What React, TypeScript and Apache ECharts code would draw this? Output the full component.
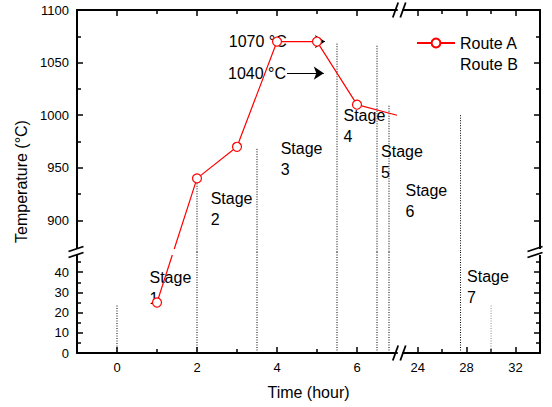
import { useEffect, useRef } from 'react';
import * as echarts from 'echarts';

const FONT = '"Liberation Sans", Arial, Helvetica, sans-serif';

// ---- axis ranges of the broken-axis panels ----
const xLeftRange = [-1, 7];
const xRightRange = [22.8, 34];
const yUpperRange = [870, 1100];
const yLowerRange = [0, 50];

// ---- tick values ----
const xLeftMajor = [0, 2, 4, 6];
const xLeftMinor = [1, 3, 5];
const xRightMajor = [24, 28, 32];
const xRightMinor = [26, 30];
const yUpperMajor = [900, 950, 1000, 1050, 1100];
const yUpperMinor = [925, 975, 1025, 1075];
const yLowerMajor = [0, 10, 20, 30, 40];
const yLowerMinor = [5, 15, 25, 35, 45];

// ---- Route A ----
const routeATime = [1, 2, 3, 4, 5, 6];
const routeATemp = [25, 940, 970, 1070, 1070, 1010];
const routeAEnd = [7, 1000]; // line runs into the time-axis break here (no marker)

// ---- stage boundaries (dotted lines) ----
const guideTime = [0, 2, 3.5, 5.5, 6.5, 6.8, 27.5, 30];
const guideTop = [23.5, 940, 968, 1068, 1066, 1009, 1000, 23.5];
const guideColor = ['#000', '#000', '#000', '#000', '#000', '#000', '#000', '#888'];

// ---- stage labels ----
const stageText = ['Stage\n1', 'Stage\n2', 'Stage\n3', 'Stage\n4', 'Stage\n5', 'Stage\n6', 'Stage\n7'];
const stageTime = [0.8, 2.33, 4.08, 5.65, 6.59, 22.96, 28.0];
const stageTemp = [32.4, 910.4, 958.4, 989.8, 955.7, 918.7, 32.6];

// ---- holding-temperature annotations ----
const holdTemps = [1070, 1040];
const holdStart = [4.27, 4.25];
const holdEnd = [5.2, 5.17];

// ---- layout (pixels) ----
const L = 77, R = 540, T = 10, B = 353, XB1 = 397, XB2 = 403, YB = 252;

const isUpper = (y: number) => y > 500;
const isRight = (x: number) => x > 15;
const gridOf = (x: number, y: number) => (isRight(x) ? 2 : 0) + (isUpper(y) ? 0 : 1);

const xRange = (g: number) => (g >= 2 ? xRightRange : xLeftRange);
const yRange = (g: number) => (g % 2 === 0 ? yUpperRange : yLowerRange);
const xMajor = (g: number) => (g >= 2 ? xRightMajor : xLeftMajor);
const xMinor = (g: number) => (g >= 2 ? xRightMinor : xLeftMinor);
const yMajor = (g: number) => (g % 2 === 0 ? yUpperMajor : yLowerMajor);
const yMinor = (g: number) => (g % 2 === 0 ? yUpperMinor : yLowerMinor);

const axisColor = '#000';
const labelStyle = { fontSize: 13, color: '#000', fontFamily: FONT, margin: 8, formatter: (v: number) => String(v) };

function makeAxis(dim: 'x' | 'y', g: number, minor: boolean) {
  const range = dim === 'x' ? xRange(g) : yRange(g);
  const upper = g % 2 === 0;
  const right = g >= 2;
  const position = dim === 'x' ? (upper ? 'top' : 'bottom') : right ? 'right' : 'left';
  const showLabel = !minor && (dim === 'x' ? !upper : !right);
  const ticks = minor ? (dim === 'x' ? xMinor(g) : yMinor(g)) : dim === 'x' ? xMajor(g) : yMajor(g);
  return {
    type: 'value',
    gridIndex: g,
    position,
    min: range[0],
    max: range[1],
    axisLine: { show: !minor, onZero: false, lineStyle: { color: axisColor, width: 2 } },
    axisTick: {
      show: true,
      inside: true,
      length: minor ? 4 : 6,
      customValues: ticks,
      lineStyle: { color: axisColor, width: 1.5 },
    },
    axisLabel: { show: showLabel, customValues: ticks, ...labelStyle },
    splitLine: { show: false },
    minorTick: { show: false },
  };
}

function buildOption(lowEnd: number[] | null, highStart: number[] | null) {
  const grids = [0, 1, 2, 3].map((g) => ({
    left: g >= 2 ? XB2 : L,
    top: g % 2 === 0 ? T : YB,
    width: g >= 2 ? R - XB2 : XB1 - L,
    height: g % 2 === 0 ? YB - T : B - YB,
    outerBoundsMode: 'none',
  }));
  const xAxes = [0, 1, 2, 3].map((g) => makeAxis('x', g, false)).concat([0, 1, 2, 3].map((g) => makeAxis('x', g, true)));
  const yAxes = [0, 1, 2, 3].map((g) => makeAxis('y', g, false)).concat([0, 1, 2, 3].map((g) => makeAxis('y', g, true)));

  const series: any[] = [];

  // dotted stage boundaries
  guideTime.forEach((x, i) => {
    const top = guideTop[i];
    const pieces: { g: number; data: number[][] }[] = [];
    const gx = isRight(x) ? 2 : 0;
    if (isUpper(top)) {
      pieces.push({ g: gx, data: [[x, top], [x, yUpperRange[0]]] });
      pieces.push({ g: gx + 1, data: [[x, yLowerRange[1]], [x, 0]] });
    } else {
      pieces.push({ g: gx + 1, data: [[x, top], [x, 0]] });
    }
    pieces.forEach((p) =>
      series.push({
        type: 'line',
        xAxisIndex: p.g,
        yAxisIndex: p.g,
        data: p.data,
        symbol: 'none',
        silent: true,
        z: 1,
        lineStyle: { color: guideColor[i], width: 1, type: [1, 1.5] },
      })
    );
  });

  const red = '#ff0000';
  const markerStyle = { color: '#fff', borderColor: red, borderWidth: 1.2 };
  const lowPts: any[] = [];
  const highPts: any[] = [];
  routeATime.forEach((t, i) => {
    if (isUpper(routeATemp[i])) highPts.push([t, routeATemp[i]]);
    else lowPts.push([t, routeATemp[i]]);
  });
  if (lowEnd) lowPts.push({ value: lowEnd, symbol: 'none' });
  if (highStart) highPts.unshift({ value: highStart, symbol: 'none' });
  highPts.push({ value: routeAEnd, symbol: 'none' });

  const routeBase = {
    type: 'line',
    name: 'Route A',
    symbol: 'circle',
    symbolSize: 9,
    itemStyle: markerStyle,
    lineStyle: { color: red, width: 1.2 },
    z: 5,
    silent: true,
  };
  series.push({ ...routeBase, xAxisIndex: 0, yAxisIndex: 0, data: highPts,
    markLine: {
      silent: true,
      symbol: ['none', 'arrow'],
      symbolSize: 10,
      precision: 3,
      lineStyle: { color: '#000', width: 1, type: 'solid' },
      itemStyle: { color: '#000' },
      label: { show: true, position: 'start', formatter: '{b}', fontSize: 16, color: '#000', fontFamily: FONT, distance: 1 },
      emphasis: { disabled: true },
      data: holdTemps.map((t, i) => [
        { name: `${t} °C`, coord: [holdStart[i], t] },
        { coord: [holdEnd[i], t] },
      ]),
    },
  });
  series.push({ ...routeBase, xAxisIndex: 1, yAxisIndex: 1, data: lowPts });

  series.push({
    type: 'line',
    name: 'Route B',
    xAxisIndex: 0,
    yAxisIndex: 0,
    data: [],
    symbol: 'none',
    itemStyle: { color: 'rgba(0,0,0,0)' },
    lineStyle: { color: 'rgba(0,0,0,0)' },
  });

  // stage labels
  [0, 1, 2, 3].forEach((g) => {
    const items = stageText
      .map((s, i) => ({ name: s, value: [stageTime[i], stageTemp[i]] }))
      .filter((it) => gridOf(it.value[0], it.value[1]) === g);
    if (!items.length) return;
    series.push({
      type: 'scatter',
      xAxisIndex: g,
      yAxisIndex: g,
      data: items,
      symbolSize: 1,
      silent: true,
      z: 3,
      itemStyle: { color: 'rgba(0,0,0,0)', opacity: 1 },
      label: {
        show: true,
        position: 'right',
        distance: 0,
        formatter: '{b}',
        fontSize: 16,
        lineHeight: 21,
        color: '#000',
        opacity: 1,
        fontFamily: FONT,
        align: 'left',
      },
    });
  });

  const slashStyle = { stroke: '#000', lineWidth: 1.8 };
  const vSlash = (cx: number, cy: number) => ({
    type: 'line', z: 100, silent: true,
    shape: { x1: cx - 7.5, y1: cy + 2.5, x2: cx + 7.5, y2: cy - 2.5 }, style: slashStyle,
  });
  const hSlash = (cx: number, cy: number) => ({
    type: 'line', z: 100, silent: true,
    shape: { x1: cx - 2.7, y1: cy + 7.5, x2: cx + 2.7, y2: cy - 7.5 }, style: slashStyle,
  });
  const gapRect = (x: number, y: number, w: number, h: number) => ({
    type: 'rect', z: 99, silent: true, shape: { x, y, width: w, height: h }, style: { fill: '#fff' },
  });

  const graphic = [
    gapRect(L - 2, YB - 3, 4, 6),
    gapRect(R - 2, YB - 3, 4, 6),
    vSlash(L - 1, YB - 3), vSlash(L - 1, YB + 3),
    vSlash(R - 5, YB - 3), vSlash(R - 5, YB + 3),
    hSlash(XB1 - 1.5, B), hSlash(XB2, B),
    hSlash(XB1 - 1.5, T), hSlash(XB2, T),
    {
      type: 'text', x: 21, y: (T + B) / 2, rotation: Math.PI / 2, silent: true,
      style: { text: 'Temperature (°C)', fontSize: 16, fontFamily: FONT, fill: '#000', align: 'center', verticalAlign: 'middle' },
    },
    {
      type: 'text', x: (L + R) / 2, y: 392.5, silent: true,
      style: { text: 'Time (hour)', fontSize: 16, fontFamily: FONT, fill: '#000', align: 'center', verticalAlign: 'middle' },
    },
  ];

  return {
    animation: false,
    backgroundColor: '#fff',
    grid: grids,
    xAxis: xAxes,
    yAxis: yAxes,
    legend: {
      data: ['Route A', 'Route B'],
      left: 411,
      top: 30,
      orient: 'vertical',
      itemWidth: 38,
      itemHeight: 11,
      itemGap: 5,
      selectedMode: false,
      textStyle: { fontSize: 16, color: '#000', fontFamily: FONT, lineHeight: 16 },
    },
    series,
    graphic,
  };
}

export default function App() {
  const ref = useRef<HTMLDivElement>(null);
  useEffect(() => {
    const chart = echarts.init(ref.current!, null, { renderer: 'svg' });
    chart.setOption(buildOption(null, null) as any);
    let lowEnd: number[] | null = null;
    let highStart: number[] | null = null;
    try {
      const iLow = routeATemp.findIndex((v) => !isUpper(v));
      const iHigh = iLow + 1;
      const p1 = chart.convertToPixel({ xAxisIndex: 1, yAxisIndex: 1 } as any, [routeATime[iLow], routeATemp[iLow]]) as number[];
      const p2 = chart.convertToPixel({ xAxisIndex: 0, yAxisIndex: 0 } as any, [routeATime[iHigh], routeATemp[iHigh]]) as number[];
      const yB = (chart.convertToPixel({ xAxisIndex: 1, yAxisIndex: 1 } as any, [0, yLowerRange[1]]) as number[])[1];
      const half = 3;
      const xAt = (py: number) => p1[0] + ((p1[1] - py) / (p1[1] - p2[1])) * (p2[0] - p1[0]);
      lowEnd = chart.convertFromPixel({ xAxisIndex: 1, yAxisIndex: 1 } as any, [xAt(yB + half), yB + half]) as number[];
      highStart = chart.convertFromPixel({ xAxisIndex: 0, yAxisIndex: 0 } as any, [xAt(yB - half), yB - half]) as number[];
    } catch (e) {
      lowEnd = null;
      highStart = null;
    }
    chart.setOption(buildOption(lowEnd, highStart) as any, true);
    return () => chart.dispose();
  }, []);
  return <div ref={ref} style={{ position: 'fixed', left: 0, top: 0, width: 552, height: 407 }} />;
}
